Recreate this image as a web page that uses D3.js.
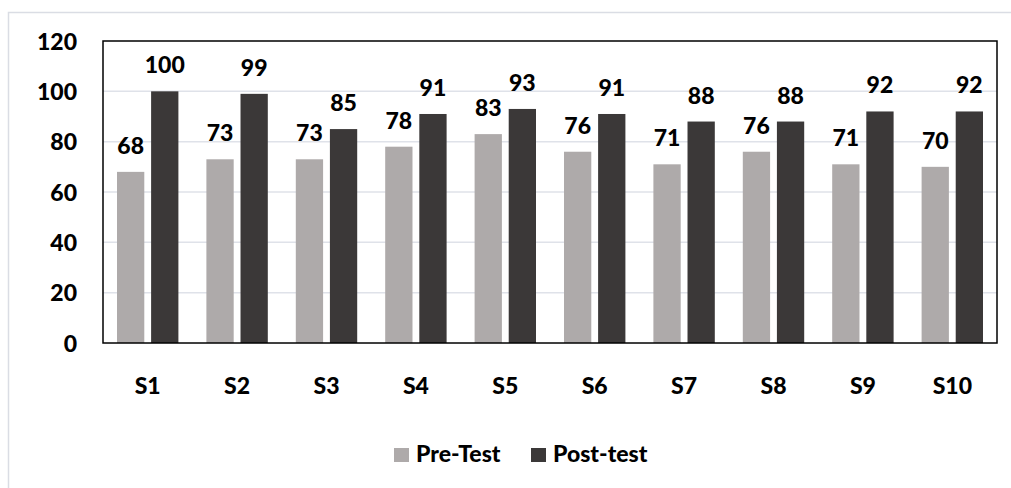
<!DOCTYPE html>
<html>
<head>
<meta charset="utf-8">
<script src="https://cdn.jsdelivr.net/npm/d3@7"></script>
<style>
  html, body { margin: 0; padding: 0; background: #ffffff; }
  svg { display: block; }
  text { font-family: Lato, "Open Sans", sans-serif; font-weight: 900; fill: #000; }
</style>
</head>
<body>
<svg id="chart" width="1011" height="488"></svg>
<script>
// Scores per student
const students = ["S1", "S2", "S3", "S4", "S5", "S6", "S7", "S8", "S9", "S10"];
const preTest  = [68, 73, 73, 78, 83, 76, 71, 76, 71, 70];
const postTest = [100, 99, 85, 91, 93, 91, 88, 88, 92, 92];
const seriesNames = ["Pre-Test", "Post-test"];
const seriesColors = ["#aeaaaa", "#3b3838"];
const yTicks = [0, 20, 40, 60, 80, 100, 120];

const svg = d3.select("#chart");
const fontSize = "23px";

// Outer frame
svg.append("rect")
  .attr("x", 8.5).attr("y", 12.5)
  .attr("width", 1100).attr("height", 600)
  .attr("fill", "#ffffff")
  .attr("stroke", "#dadde4")
  .attr("stroke-width", 1.5);

const plot = { left: 103, top: 41, right: 997, bottom: 343 };

const x = d3.scaleBand()
  .domain(students)
  .range([plot.left, plot.right])
  .paddingInner(0)
  .paddingOuter(0);

const inner = d3.scaleBand()
  .domain(seriesNames)
  .range([14, x.bandwidth() - 14])
  .paddingInner(0.2);

const y = d3.scaleLinear()
  .domain([0, 120])
  .range([plot.bottom, plot.top]);

// Horizontal gridlines
svg.append("g")
  .selectAll("line")
  .data(yTicks.filter(t => t > 0 && t < 120))
  .join("line")
  .attr("x1", plot.left).attr("x2", plot.right)
  .attr("y1", d => y(d)).attr("y2", d => y(d))
  .attr("stroke", "#dfe2e9")
  .attr("stroke-width", 1.5);

// Y axis labels
const yAxis = d3.axisLeft(y).tickValues(yTicks).tickSize(0).tickPadding(26);
const gy = svg.append("g")
  .attr("transform", `translate(${plot.left},0)`)
  .call(yAxis);
gy.select(".domain").remove();
gy.selectAll("text")
  .attr("font-size", fontSize)
  .attr("dy", "0.36em");

// X axis labels
const xAxis = d3.axisBottom(x).tickSize(0).tickPadding(35);
const gx = svg.append("g")
  .attr("transform", `translate(0,${plot.bottom})`)
  .call(xAxis);
gx.select(".domain").remove();
gx.selectAll("text")
  .attr("font-size", fontSize);

const rows = students.map((s, i) => ({ s, vals: [preTest[i], postTest[i]] }));

const groups = svg.append("g")
  .selectAll("g")
  .data(rows)
  .join("g")
  .attr("transform", d => `translate(${x(d.s)},0)`);

const cells = groups.selectAll("g")
  .data(d => d.vals.map((v, k) => ({ name: seriesNames[k], v, k })))
  .join("g");

cells.append("rect")
  .attr("x", d => inner(d.name))
  .attr("width", inner.bandwidth())
  .attr("y", d => y(d.v))
  .attr("height", d => y(0) - y(d.v))
  .attr("fill", d => seriesColors[d.k]);

cells.append("text")
  .attr("x", d => inner(d.name) + inner.bandwidth() / 2)
  .attr("y", d => y(d.v) - 18)
  .attr("text-anchor", "middle")
  .attr("font-size", fontSize)
  .text(d => d.v);

// Plot frame
svg.append("rect")
  .attr("x", plot.left).attr("y", plot.top)
  .attr("width", plot.right - plot.left)
  .attr("height", plot.bottom - plot.top)
  .attr("fill", "none")
  .attr("stroke", "#000")
  .attr("stroke-width", 1.5);

// Legend
const legendItems = [
  { name: seriesNames[0], color: seriesColors[0], x: 394 },
  { name: seriesNames[1], color: seriesColors[1], x: 531 }
];
const lg = svg.append("g");
const li = lg.selectAll("g").data(legendItems).join("g")
  .attr("transform", d => `translate(${d.x},0)`);
li.append("rect")
  .attr("x", 0).attr("y", 448)
  .attr("width", 15).attr("height", 14)
  .attr("fill", d => d.color);
li.append("text")
  .attr("x", 22).attr("y", 462)
  .attr("font-size", fontSize)
  .text(d => d.name);
</script>
</body>
</html>
